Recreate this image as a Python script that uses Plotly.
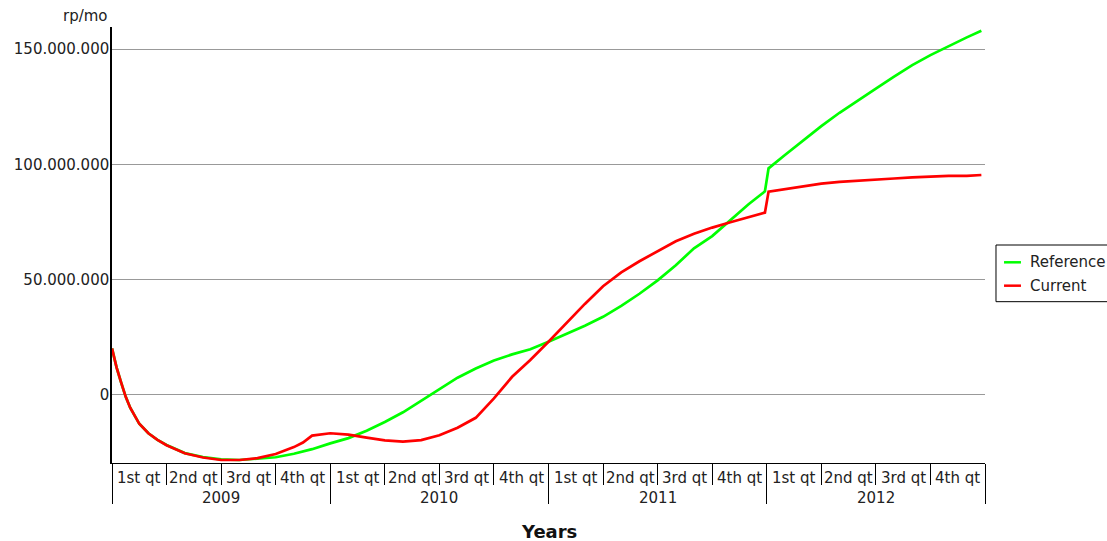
import plotly.graph_objects as go

# Time in months since Jan 2009
months_ref = [0, 0.25, 0.5, 0.75, 1, 1.5, 2, 2.5, 3, 4, 5, 6, 7, 8, 9, 10, 11, 12, 13, 14, 15, 16,
              17, 18, 19, 20, 21, 22, 23, 24, 25, 26, 27, 28, 29, 30, 31, 32, 33, 34, 35, 35.9,
              36.1, 37, 38, 39, 40, 41, 42, 43, 44, 45, 46, 47, 47.8]
reference = [20.2, 12.0, 5.5, -0.7, -5.5, -12.5, -16.6, -19.5, -21.7, -25.2, -26.9, -27.9, -28.2,
             -27.7, -27.0, -25.5, -23.5, -21.0, -18.7, -15.5, -11.7, -7.5, -2.6, 2.6, 7.5, 11.5,
             15.0, 17.6, 19.8, 23.1, 26.6, 30.0, 33.9, 38.6, 43.9, 49.7, 56.3, 63.6, 68.9, 75.9,
             82.7, 88.3, 98.3, 104.1, 110.5, 116.6, 122.4, 127.8, 132.9, 138.1, 143.1, 147.4,
             151.4, 155.1, 158.0]

months_cur = [0, 0.25, 0.5, 0.75, 1, 1.5, 2, 2.5, 3, 4, 5, 6, 7, 8, 9, 10, 10.5, 11, 12, 13, 14, 15,
              16, 17, 18, 19, 20, 21, 22, 23, 24, 25, 26, 27, 28, 29, 30, 31, 32, 33, 34, 35, 35.9,
              36.1, 37, 38, 39, 40, 41, 42, 43, 44, 45, 46, 47, 47.8]
current = [20.2, 12.0, 5.5, -0.7, -5.5, -12.5, -16.6, -19.5, -21.8, -25.3, -27.1, -28.2, -28.2,
           -27.4, -25.6, -22.6, -20.6, -17.6, -16.6, -17.2, -18.5, -19.7, -20.2, -19.6, -17.5,
           -14.2, -9.9, -1.5, 7.9, 15.2, 23.1, 31.4, 39.5, 47.2, 53.2, 58.0, 62.4, 66.7, 69.9,
           72.6, 74.9, 77.0, 79.1, 88.2, 89.3, 90.6, 91.7, 92.4, 93.0, 93.5, 93.9, 94.4, 94.8,
           95.0, 95.0, 95.4]

years = ["2009", "2010", "2011", "2012"]
quarters = ["1st qt", "2nd qt", "3rd qt", "4th qt"]
series_names = ["Reference", "Current"]
series_colors = ["#00ff00", "#ff0000"]

FONT = "DejaVu Sans, Verdana, sans-serif"
TXT = "#222222"

fig = go.Figure()
fig.add_trace(go.Scatter(x=months_ref, y=[v * 1e6 for v in reference], mode="lines",
                         name=series_names[0], line=dict(color=series_colors[0], width=2.7)))
fig.add_trace(go.Scatter(x=months_cur, y=[v * 1e6 for v in current], mode="lines",
                         name=series_names[1], line=dict(color=series_colors[1], width=2.7)))

annotations = []
for yi, yr in enumerate(years):
    for qi, q in enumerate(quarters):
        annotations.append(dict(x=yi * 12 + qi * 3 + 1.5, y=-0.0337, xref="x", yref="paper",
                                text=q, showarrow=False, xanchor="center", yanchor="middle",
                                font=dict(size=15, color=TXT)))
    annotations.append(dict(x=yi * 12 + 6, y=-0.080, xref="x", yref="paper", text=yr,
                            showarrow=False, xanchor="center", yanchor="middle",
                            font=dict(size=15, color=TXT)))
annotations.append(dict(x=0, y=1, xref="paper", yref="paper", text="rp/mo", showarrow=False,
                        xanchor="right", yanchor="bottom", xshift=-2, yshift=0,
                        font=dict(size=15, color=TXT)))
annotations.append(dict(x=0.5, y=-0.156, xref="paper", yref="paper", text="<b>Years</b>",
                        showarrow=False, xanchor="center", yanchor="middle",
                        font=dict(size=18, color="#111111")))

# manual legend (box cut off at right edge as in the original)
shapes = [dict(type="rect", xref="paper", yref="paper", x0=1.0126, x1=1.16, y0=0.370, y1=0.500,
               line=dict(color="black", width=1), fillcolor="white", layer="above")]
legend_y = [0.4603, 0.4067]
for name, col, ly in zip(series_names, series_colors, legend_y):
    shapes.append(dict(type="line", xref="paper", yref="paper", x0=1.0218, x1=1.0412,
                       y0=ly, y1=ly, line=dict(color=col, width=2.5), layer="above"))
    annotations.append(dict(x=1.0493, y=ly, xref="paper", yref="paper", text=name,
                            showarrow=False, xanchor="left", yanchor="middle",
                            font=dict(size=15, color=TXT)))

fig.update_layout(
    width=1107, height=541,
    margin=dict(l=112, r=122, t=27, b=78, autoexpand=False),
    paper_bgcolor="white", plot_bgcolor="white",
    separators=",.",
    font=dict(family=FONT, size=15, color=TXT),
    showlegend=False,
    xaxis=dict(range=[0, 48], tickmode="linear", tick0=0, dtick=12, ticks="outside",
               ticklen=40, tickcolor="black", tickwidth=1, showticklabels=False,
               showgrid=False, zeroline=False, showline=True, linecolor="black", linewidth=1,
               automargin=False,
               minor=dict(tick0=0, dtick=3, ticks="outside", ticklen=21, tickcolor="black",
                          tickwidth=1, showgrid=False)),
    yaxis=dict(range=[-29.5e6, 159.6e6], tickmode="linear", tick0=0, dtick=50e6,
               tickformat=",d", showgrid=True, gridcolor="#999999", gridwidth=1,
               zeroline=False, showline=True, linecolor="black", linewidth=1.5,
               automargin=False,
               ticks="", ticklabelstandoff=-2, tickfont=dict(size=15, color=TXT)),
    annotations=annotations,
    shapes=shapes,
)

fig.write_html(
    "out.html",
    config={"displayModeBar": False},
    post_script="document.body.style.margin='0';document.documentElement.style.overflow='hidden';",
)
